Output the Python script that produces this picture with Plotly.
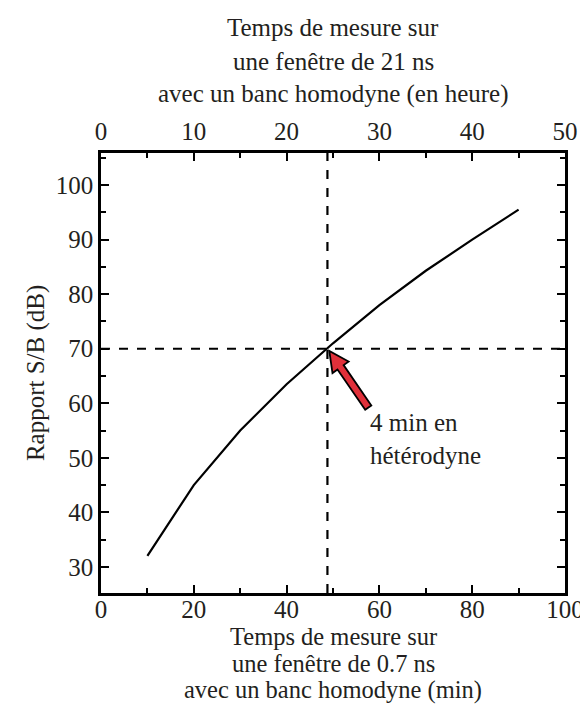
import math
import plotly.graph_objects as go

# ---- data ----
x_min = [10, 20, 30, 40, 50, 60, 70, 80, 90]
snr_db = [32, 45, 55, 63.5, 71, 78, 84.3, 90, 95.5]
x_bottom_ticks = [0, 20, 40, 60, 80, 100]
x_top_ticks = [0, 10, 20, 30, 40, 50]
y_ticks = [30, 40, 50, 60, 70, 80, 90, 100]
ref_snr = 70
ref_time = 48.8
arrow_tip = (49.2, 69.6)
arrow_tail = (57.6, 59.2)
note_pos = (57.6, 53.5)
note_text = "4 min en<br>hétérodyne"

bottom_title = ["Temps de mesure sur", "une fenêtre de 0.7 ns", "avec un banc homodyne (min)"]
top_title = ["Temps de mesure sur", "une fenêtre de 21 ns", "avec un banc homodyne (en heure)"]
y_title = "Rapport S/B (dB)"

# ---- layout geometry ----
W, H = 588, 706
L, R, T, B = 93, 23, 145, 121
XR = [0, 100]
YR = [25.2, 105.9]
pw, ph = W - L - R, H - T - B
sx = pw / (XR[1] - XR[0])
sy = ph / (YR[1] - YR[0])

FONT = "Liberation Serif, Times New Roman, serif"
FS_TICK = 25
FS_TXT = 25
FS_BOT = 24.5
TXT_COLOR = "#231f20"

fig = go.Figure()
fig.add_trace(go.Scatter(x=x_min, y=snr_db, mode="lines",
                         line=dict(color="black", width=2.2), showlegend=False,
                         hoverinfo="skip"))
fig.add_trace(go.Scatter(x=[0, 50], y=[None, None], xaxis="x2", mode="lines",
                         showlegend=False, hoverinfo="skip"))

# dashed reference lines
fig.add_shape(type="line", xref="paper", yref="y", x0=0, x1=1, y0=ref_snr, y1=ref_snr,
              line=dict(color="black", width=2.2, dash="dash"))
fig.add_shape(type="line", xref="x", yref="paper", x0=ref_time, x1=ref_time, y0=0, y1=1,
              line=dict(color="black", width=2.2, dash="dash"))

# arrow polygon (built in pixel space, converted to data units)
tx, ty = arrow_tip[0] * sx, arrow_tip[1] * sy
ex, ey = arrow_tail[0] * sx, arrow_tail[1] * sy
dx, dy = tx - ex, ty - ey
ln = math.hypot(dx, dy)
ux, uy = dx / ln, dy / ln
nx, ny = -uy, ux
head_len, head_w, shaft_w = 20, 10, 3.8
bx, by = tx - ux * head_len, ty - uy * head_len
pts = [
    (ex + nx * shaft_w, ey + ny * shaft_w),
    (bx + nx * shaft_w, by + ny * shaft_w),
    (bx + nx * head_w, by + ny * head_w),
    (tx, ty),
    (bx - nx * head_w, by - ny * head_w),
    (bx - nx * shaft_w, by - ny * shaft_w),
    (ex - nx * shaft_w, ey - ny * shaft_w),
]
path = "M " + " L ".join(f"{px / sx:.4f},{py / sy:.4f}" for px, py in pts) + " Z"
fig.add_shape(type="path", xref="x", yref="y", path=path,
              fillcolor="#e0303a", line=dict(color="black", width=1.8))

fig.add_annotation(x=note_pos[0], y=note_pos[1], xref="x", yref="y", text=note_text,
                   showarrow=False, xanchor="left", yanchor="middle", align="left",
                   font=dict(family=FONT, size=FS_TXT, color=TXT_COLOR))

# axis titles as separate text lines
top_line_px = [20, 53, 86]
for txt, ypx in zip(top_title, top_line_px):
    fig.add_annotation(x=0.5, y=1 + (T - ypx) / ph, xref="paper", yref="paper", text=txt,
                       showarrow=False, xanchor="center", yanchor="middle",
                       font=dict(family=FONT, size=FS_TXT, color=TXT_COLOR))
bottom_line_px = [628, 655, 682]
for txt, ypx in zip(bottom_title, bottom_line_px):
    fig.add_annotation(x=0.5, y=-(ypx - (H - B)) / ph, xref="paper", yref="paper", text=txt,
                       showarrow=False, xanchor="center", yanchor="middle",
                       font=dict(family=FONT, size=FS_BOT, color=TXT_COLOR))
fig.add_annotation(x=-(L - 27) / pw, y=0.5, xref="paper", yref="paper", text=y_title,
                   textangle=-90, showarrow=False, xanchor="center", yanchor="middle",
                   font=dict(family=FONT, size=FS_TXT, color=TXT_COLOR))

axis_common = dict(showgrid=False, zeroline=False, showline=True, linecolor="black",
                   linewidth=2.6, ticks="inside", tickcolor="black", tickwidth=2,
                   ticklen=8, tickfont=dict(family=FONT, size=FS_TICK, color=TXT_COLOR))
minor_common = dict(ticks="inside", ticklen=5, tickwidth=2, tickcolor="black")

fig.update_layout(
    width=W, height=H,
    margin=dict(l=L, r=R, t=T, b=B),
    plot_bgcolor="white", paper_bgcolor="white",
    xaxis=dict(range=XR, tickvals=x_bottom_ticks, minor=dict(dtick=10, **minor_common),
               **axis_common),
    xaxis2=dict(range=[XR[0] / 2, XR[1] / 2], tickvals=x_top_ticks, overlaying="x",
                side="top", minor=dict(dtick=5, **minor_common), **axis_common),
    yaxis=dict(range=YR, tickvals=y_ticks, mirror="ticks",
               minor=dict(dtick=5, **minor_common), **axis_common),
)
try:
    fig.layout.xaxis.ticklabelstandoff = -8
except Exception:
    pass

fig.write_html("out.html")
